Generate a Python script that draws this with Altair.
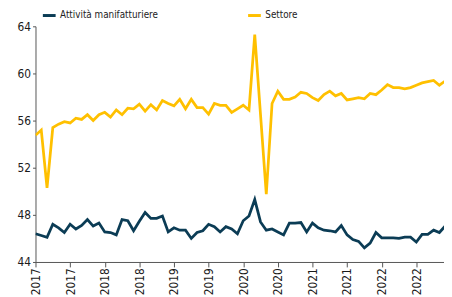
import altair as alt
import pandas as pd

# Monthly observations, Jan 2017 - Dec 2022
months = [f"{y}-{m:02d}" for y in range(2017, 2023) for m in range(1, 13)]

series_names = ["Attività manifatturiere", "Settore"]
series_colors = ["#0b3c55", "#ffc000"]

manifatturiere = [
    46.4, 46.25, 46.1, 47.2, 46.9, 46.5, 47.2, 46.8, 47.1, 47.6,
    47.05, 47.3, 46.55, 46.5, 46.3, 47.6, 47.5, 46.65, 47.45, 48.2,
    47.7, 47.7, 47.9, 46.55, 46.9, 46.7, 46.7, 46.0, 46.5, 46.65,
    47.2, 47.0, 46.55, 47.0, 46.8, 46.4, 47.5, 47.9, 49.3, 47.4,
    46.7, 46.8, 46.55, 46.3, 47.3, 47.3, 47.35, 46.55, 47.3, 46.9,
    46.7, 46.65, 46.55, 47.1, 46.3, 45.9, 45.75, 45.2, 45.6, 46.5,
    46.05, 46.05, 46.05, 46.0, 46.1, 46.1, 45.7, 46.35, 46.35, 46.7,
    46.5, 47.05,
]

settore = [
    54.75, 55.2, 50.3, 55.4, 55.7, 55.9, 55.8, 56.2, 56.1, 56.5,
    56.0, 56.5, 56.7, 56.3, 56.9, 56.5, 57.05, 57.0, 57.4, 56.8,
    57.35, 56.9, 57.7, 57.45, 57.25, 57.8, 57.0, 57.8, 57.1, 57.1,
    56.55, 57.45, 57.3, 57.3, 56.7, 57.0, 57.3, 56.9, 63.3, 56.5,
    49.75, 57.45, 58.5, 57.8, 57.8, 58.0, 58.4, 58.3, 57.95, 57.7,
    58.2, 58.5, 58.1, 58.3, 57.75, 57.85, 57.95, 57.85, 58.3, 58.2,
    58.6, 59.05, 58.8, 58.8, 58.7, 58.8, 59.0, 59.2, 59.3, 59.4,
    59.0, 59.35,
]

y_ticks = [44, 48, 52, 56, 60, 64]
x_ticks = list(range(0, len(months), 6))

rows = []
for name, vals in zip(series_names, [manifatturiere, settore]):
    for i, (m, v) in enumerate(zip(months, vals)):
        rows.append({"idx": i, "mese": m, "serie": name, "valore": v})
df = pd.DataFrame(rows)

FONT = "DejaVu Sans Condensed"

chart = alt.Chart(df).mark_line(strokeWidth=2.8, clip=True).encode(
    x=alt.X(
        "idx:Q",
        scale=alt.Scale(domain=[0, 70.8], nice=False, zero=False),
        axis=alt.Axis(
            values=x_ticks,
            labelExpr="toString(2017 + floor(datum.value / 12))",
            labelAngle=-90,
            title=None,
            grid=False,
            tickSize=5,
            labelPadding=1,
        ),
    ),
    y=alt.Y(
        "valore:Q",
        scale=alt.Scale(domain=[44, 64], nice=False, zero=False),
        axis=alt.Axis(values=y_ticks, title=None, grid=False, tickSize=3, labelPadding=2),
    ),
    color=alt.Color(
        "serie:N",
        scale=alt.Scale(domain=series_names, range=series_colors),
        sort=series_names,
        legend=alt.Legend(
            title=None,
            orient="none",
            legendX=6,
            legendY=-19,
            direction="horizontal",
            symbolType="stroke",
            symbolSize=169,
            symbolStrokeWidth=3,
            columnPadding=85,
            labelFontSize=10,
            labelOffset=3,
            padding=0,
            labelColor="#222222",
            labelFont=FONT,
        ),
    ),
).properties(
    width=416,
    height=240,
    autosize=alt.AutoSizeParams(type="none"),
    padding={"left": 28, "top": 16, "right": 0, "bottom": 33},
).configure_view(stroke=None).configure_axis(
    labelFont=FONT,
    labelFontSize=12,
    labelColor="#1a1a1a",
    domainColor="#555555",
    tickColor="#555555",
    domainWidth=1,
)

chart.save("out.html", embed_options={"renderer": "svg", "actions": False})
